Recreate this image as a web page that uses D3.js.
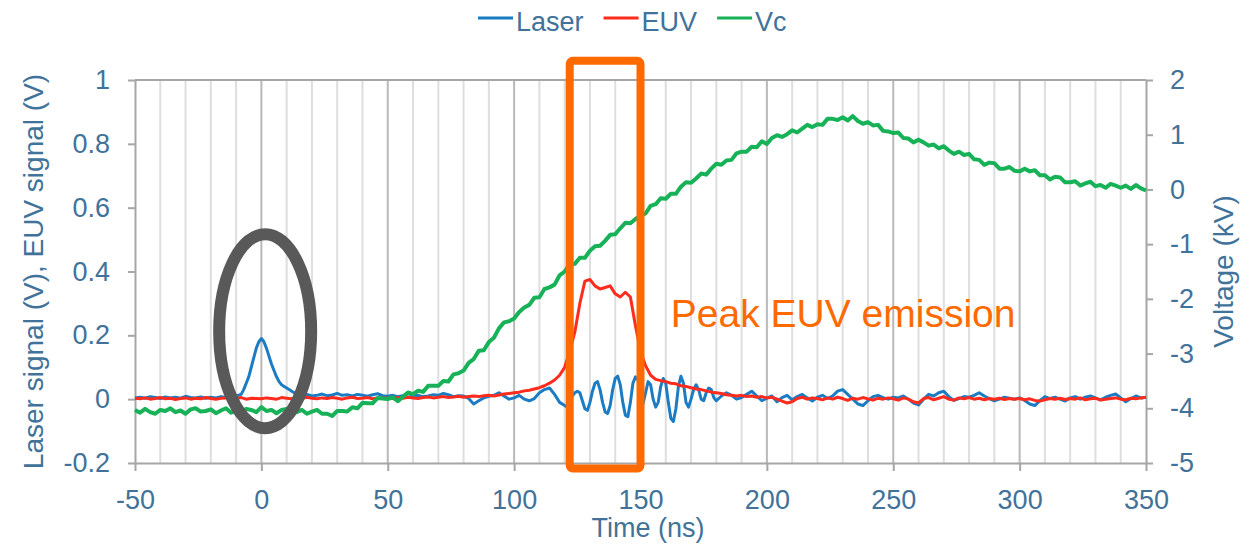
<!DOCTYPE html>
<html>
<head>
<meta charset="utf-8">
<script src="https://cdn.jsdelivr.net/npm/d3@7"></script>
<style>
  body { margin: 0; background: #fff; }
  svg { font-family: "Liberation Sans", Arial, sans-serif; }
  .axis text { fill: #41729a; font-size: 27px; }
  .axis path, .axis line { stroke: #a6a6a6; stroke-width: 2px; }
</style>
</head>
<body>
<svg></svg>
<script>
// series names and colours
var seriesNames = ["Laser", "EUV", "Vc"],
    seriesColors = ["#1b7cc4", "#ff2b1c", "#17b257"];

var xTicks = [-50, 0, 50, 100, 150, 200, 250, 300, 350],
    yLeftTicks = [-0.2, 0, 0.2, 0.4, 0.6, 0.8, 1],
    yRightTicks = [-5, -4, -3, -2, -1, 0, 1, 2];

// time grid for EUV and Vc (ns)
var timeNs = d3.range(-50, 351, 2);

// EUV signal (V), one value per timeNs entry
var euvValues = [
  0.003, 0.001, 0.004, 0.0, 0.002, 0.005, 0.001, 0.003, -0.001, 0.002, 0.004, 0.0, 0.003, 0.001, 0.005, 0.002, 0.0, 0.003, 0.004, 0.001, 0.002, 0.005, 0.0, 0.003, 0.002,
  0.001, 0.004, 0.002, 0.0, 0.005, 0.003, 0.001, 0.004, 0.002, 0.006, 0.003, 0.001, 0.004, 0.002, 0.005, 0.003, 0.0, 0.004, 0.006, 0.002, 0.003, 0.005, 0.001, 0.004, 0.003,
  0.004, 0.002, 0.005, 0.003, 0.006, 0.004, 0.002, 0.005, 0.007, 0.004, 0.006, 0.008, 0.005, 0.007, 0.009, 0.006, 0.008, 0.01, 0.008, 0.011, 0.012, 0.01, 0.013, 0.016, 0.018,
  0.02, 0.022, 0.026, 0.028, 0.032, 0.036, 0.042, 0.05, 0.06, 0.075, 0.1, 0.15, 0.21, 0.3, 0.37, 0.375, 0.355, 0.345, 0.35, 0.355, 0.33, 0.32, 0.335, 0.32, 0.23,
  0.15, 0.105, 0.075, 0.062, 0.058, 0.055, 0.05, 0.048, 0.042, 0.04, 0.036, 0.032, 0.03, 0.026, 0.022, 0.02, 0.018, 0.014, 0.012, 0.01, 0.012, 0.008, 0.01, 0.006, 0.008,
  0.004, 0.006, 0.0, -0.006, -0.012, -0.008, 0.002, 0.006, 0.0, 0.004, 0.002, -0.002, 0.004, 0.0, 0.006, 0.002, -0.004, 0.003, 0.0, 0.005, 0.001, -0.003, 0.003, 0.0, 0.004,
  0.001, -0.003, 0.004, 0.0, -0.008, -0.012, 0.002, 0.005, -0.002, 0.003, 0.008, 0.0, -0.003, 0.004, 0.001, 0.005, 0.0, 0.003, -0.002, 0.002, 0.0, 0.003, -0.001, 0.002, 0.0,
  0.002, -0.002, 0.001, -0.004, -0.006, -0.002, 0.002, 0.0, 0.003, -0.001, 0.002, 0.0, 0.004, -0.002, 0.001, 0.003, -0.003, 0.0, 0.002, 0.004, 0.0, -0.002, 0.003, 0.001, 0.004, 0.006
];

// Vc (kV), one value per timeNs entry
var vcValues = [
  -4.03, -4.08, -4.01, -4.07, -4.1, -4.03, -4.05, -4.0, -4.07, -4.04, -4.1, -4.02, -4.0, -4.06, -4.05, -4.02, -4.09, -4.04, -4.0, -4.08, -4.05, -4.08, -4.01, -4.03, -4.07,
  -3.98, -4.05, -4.03, -4.09, -4.03, -4.01, -4.09, -4.07, -4.03, -4.1, -4.06, -4.03, -4.1, -4.1, -4.14, -4.05, -4.05, -4.06, -3.98, -4.0, -3.9, -3.91, -3.91, -3.81, -3.82,
  -3.83, -3.8, -3.87, -3.79, -3.71, -3.74, -3.68, -3.7, -3.59, -3.59, -3.59, -3.5, -3.51, -3.38, -3.36, -3.31, -3.17, -3.1, -2.95, -2.94, -2.79, -2.71, -2.54, -2.43, -2.41,
  -2.36, -2.24, -2.16, -2.11, -1.98, -1.97, -1.82, -1.79, -1.74, -1.57, -1.5, -1.37, -1.36, -1.25, -1.25, -1.12, -1.04, -1.03, -0.94, -0.83, -0.82, -0.71, -0.61, -0.62, -0.54,
  -0.48, -0.44, -0.3, -0.27, -0.16, -0.17, -0.08, -0.08, 0.05, 0.13, 0.12, 0.2, 0.29, 0.27, 0.38, 0.47, 0.45, 0.53, 0.54, 0.66, 0.69, 0.69, 0.78, 0.77, 0.88,
  0.83, 0.94, 0.99, 0.96, 1.01, 1.08, 1.04, 1.11, 1.18, 1.14, 1.19, 1.18, 1.29, 1.29, 1.27, 1.32, 1.26, 1.34, 1.25, 1.2, 1.23, 1.17, 1.18, 1.07, 1.06,
  1.03, 1.04, 0.94, 0.93, 0.86, 0.91, 0.86, 0.8, 0.82, 0.75, 0.79, 0.71, 0.65, 0.69, 0.63, 0.65, 0.55, 0.54, 0.45, 0.49, 0.48, 0.38, 0.38, 0.41, 0.34,
  0.33, 0.38, 0.33, 0.35, 0.26, 0.26, 0.18, 0.23, 0.22, 0.13, 0.13, 0.15, 0.07, 0.11, 0.14, 0.06, 0.08, 0.03, 0.1, 0.07, 0.03, 0.07, 0.01, 0.08, 0.02, -0.02
];

// Laser signal (V) as [time (ns), value] pairs, finer around the peaks
var laserPoints = [
  [-50, 0.004], [-48, 0.006], [-46, 0.003], [-44, 0.008], [-42, 0.005], [-40, 0.002], [-38, 0.007], [-36, 0.004], [-34, 0.006], [-32, 0.003],
  [-30, 0.009], [-28, 0.005], [-26, 0.004], [-24, 0.007], [-22, 0.003], [-20, 0.006], [-18, 0.004], [-16, 0.008], [-14, 0.005], [-12, 0.006],
  [-10, 0.01], [-8, 0.015], [-7, 0.03], [-6, 0.05], [-5, 0.07], [-4, 0.1], [-3, 0.13], [-2, 0.16], [-1, 0.18], [0, 0.19],
  [1, 0.18], [2, 0.16], [3, 0.135], [4, 0.11], [5, 0.09], [6, 0.07], [7, 0.055], [8, 0.045], [9, 0.04], [10, 0.035],
  [11, 0.03], [12, 0.025], [13, 0.02], [14, 0.016], [16, 0.013], [18, 0.015], [20, 0.01], [22, 0.012], [24, 0.016], [26, 0.011],
  [28, 0.013], [30, 0.018], [32, 0.012], [34, 0.014], [36, 0.01], [38, 0.015], [40, 0.012], [42, 0.009], [44, 0.014], [46, 0.017],
  [48, 0.011], [50, 0.009], [52, 0.012], [54, 0.008], [56, 0.011], [58, 0.006], [60, 0.01], [62, 0.012], [64, 0.008], [66, 0.01],
  [68, 0.014], [70, 0.012], [72, 0.018], [74, 0.014], [76, 0.008], [78, 0.011], [80, 0.01], [82, 0.002], [84, -0.015], [86, -0.005],
  [88, 0.004], [90, 0.009], [92, 0.012], [94, 0.02], [96, 0.01], [98, 0.0], [100, 0.004], [102, 0.012], [104, 0.0], [106, -0.005],
  [108, 0.002], [110, 0.02], [112, 0.03], [114, 0.035], [116, 0.015], [118, -0.01], [120, -0.02], [121, -0.025], [122, -0.01], [123, 0.01],
  [124, 0.02], [125, 0.025], [126, 0.02], [127, -0.005], [128, -0.03], [129, -0.035], [130, -0.01], [131, 0.025], [132, 0.05], [133, 0.055],
  [134, 0.03], [135, -0.01], [136, -0.04], [137, -0.045], [138, -0.02], [139, 0.03], [140, 0.065], [141, 0.072], [142, 0.045], [143, -0.01],
  [144, -0.05], [145, -0.055], [146, -0.01], [147, 0.05], [148, 0.07], [149, 0.06], [150, 0.02], [151, -0.015], [152, 0.02], [153, 0.055],
  [154, 0.045], [155, 0.0], [156, -0.025], [157, -0.01], [158, 0.04], [159, 0.065], [160, 0.05], [161, -0.01], [162, -0.06], [163, -0.07],
  [164, -0.03], [165, 0.04], [166, 0.072], [167, 0.05], [168, -0.01], [169, -0.025], [170, 0.0], [171, 0.03], [172, 0.045], [173, 0.03],
  [174, 0.0], [175, -0.005], [176, 0.02], [177, 0.035], [178, 0.03], [179, 0.005], [180, -0.005], [182, 0.01], [184, 0.02], [186, 0.012],
  [188, 0.0], [190, 0.005], [192, 0.015], [194, 0.025], [196, 0.01], [198, -0.005], [200, 0.003], [202, 0.01], [204, -0.008], [206, 0.005],
  [208, 0.012], [210, -0.002], [212, 0.008], [214, 0.015], [216, 0.004], [218, -0.006], [220, 0.006], [222, 0.012], [224, 0.002], [226, 0.01],
  [228, 0.025], [230, 0.03], [232, 0.015], [234, 0.0], [236, -0.015], [238, -0.02], [240, -0.005], [242, 0.008], [244, 0.012], [246, 0.005],
  [248, 0.0], [250, 0.006], [252, 0.004], [254, 0.01], [256, 0.0], [258, -0.012], [260, -0.018], [262, 0.0], [264, 0.015], [266, 0.01],
  [268, 0.02], [270, 0.025], [272, 0.008], [274, -0.004], [276, 0.002], [278, 0.008], [280, 0.006], [282, 0.012], [284, 0.02], [286, 0.01],
  [288, 0.002], [290, -0.005], [292, 0.0], [294, 0.006], [296, 0.003], [298, 0.0], [300, 0.004], [302, -0.004], [304, -0.015], [306, -0.02],
  [308, -0.005], [310, 0.008], [312, 0.002], [314, 0.006], [316, 0.0], [318, -0.006], [320, 0.004], [322, 0.008], [324, 0.0], [326, 0.006],
  [328, 0.01], [330, 0.004], [332, -0.002], [334, 0.006], [336, 0.012], [338, 0.016], [340, 0.004], [342, -0.008], [344, 0.002], [346, 0.01],
  [348, 0.004], [350, 0.006]
];

var width = 1244, height = 545,
    margin = {top: 80, right: 98, bottom: 82, left: 135},
    textColor = "#41729a",
    svg = d3.select("svg").attr("width", width).attr("height", height);

var x = d3.scaleLinear().domain([-50, 350]).range([margin.left, width - margin.right]),
    yLeft = d3.scaleLinear().domain([-0.2, 1]).range([height - margin.bottom, margin.top]),
    yRight = d3.scaleLinear().domain([-5, 2]).range([height - margin.bottom, margin.top]);

var fmt = function(d) { return String(+d.toFixed(1)); };

// vertical grid every 10 ns, darker every 50
svg.append("g").selectAll("line")
    .data(d3.range(-40, 350, 10))
    .enter().append("line")
    .attr("x1", function(d) { return x(d); })
    .attr("x2", function(d) { return x(d); })
    .attr("y1", yLeft(1))
    .attr("y2", yLeft(-0.2))
    .style("stroke", function(d) { return d % 50 === 0 ? "#b9b9b9" : "#dedede"; })
    .style("stroke-width", "2px");

// top border
svg.append("line")
    .attr("x1", x(-50)).attr("x2", x(350))
    .attr("y1", yLeft(1)).attr("y2", yLeft(1))
    .style("stroke", "#a6a6a6").style("stroke-width", "2px");

svg.append("g")
    .attr("class", "axis")
    .attr("transform", "translate(0," + yLeft(-0.2) + ")")
    .call(d3.axisBottom(x).tickValues(xTicks).tickFormat(fmt).tickSize(8).tickSizeOuter(0).tickPadding(19));

svg.append("g")
    .attr("class", "axis")
    .attr("transform", "translate(" + x(-50) + ",0)")
    .call(d3.axisLeft(yLeft).tickValues(yLeftTicks).tickFormat(fmt).tickSize(7).tickSizeOuter(0).tickPadding(18));

svg.append("g")
    .attr("class", "axis")
    .attr("transform", "translate(" + x(350) + ",0)")
    .call(d3.axisRight(yRight).tickValues(yRightTicks).tickFormat(fmt).tickSize(7).tickSizeOuter(0).tickPadding(17));

svg.selectAll(".axis .domain").style("stroke", "#a6a6a6");

// series
var line = d3.line().curve(d3.curveLinear);

svg.append("path")
    .attr("d", line.x(function(d) { return x(d[0]); }).y(function(d) { return yLeft(d[1]); })(laserPoints))
    .style("fill", "none").style("stroke", seriesColors[0]).style("stroke-width", "3px")
    .style("stroke-linejoin", "round");

svg.append("path")
    .attr("d", line.x(function(d, i) { return x(timeNs[i]); }).y(function(d) { return yLeft(d); })(euvValues))
    .style("fill", "none").style("stroke", seriesColors[1]).style("stroke-width", "3px")
    .style("stroke-linejoin", "round");

svg.append("path")
    .attr("d", line.x(function(d, i) { return x(timeNs[i]); }).y(function(d) { return yRight(d); })(vcValues))
    .style("fill", "none").style("stroke", seriesColors[2]).style("stroke-width", "4px")
    .style("stroke-linejoin", "round");

// axis titles
svg.append("text")
    .attr("transform", "translate(43," + (margin.top + height - margin.bottom) / 2 + ") rotate(-90)")
    .attr("text-anchor", "middle")
    .style("font-size", "28px").style("fill", textColor)
    .text("Laser signal (V), EUV signal (V)");

svg.append("text")
    .attr("transform", "translate(1233," + (margin.top + height - margin.bottom) / 2 + ") rotate(-90)")
    .attr("text-anchor", "middle")
    .style("font-size", "28px").style("fill", textColor)
    .text("Voltage (kV)");

svg.append("text")
    .attr("x", x(153)).attr("y", 537)
    .attr("text-anchor", "middle")
    .style("font-size", "27px").style("fill", textColor)
    .text("Time (ns)");

// legend
var legendX = 478;
seriesNames.forEach(function(name, i) {
    svg.append("line")
        .attr("x1", legendX).attr("x2", legendX + 35)
        .attr("y1", 18).attr("y2", 18)
        .style("stroke", seriesColors[i]).style("stroke-width", "3px");
    var t = svg.append("text")
        .attr("x", legendX + 38).attr("y", 31)
        .style("font-size", "27px").style("fill", textColor)
        .text(name);
    legendX += 38 + t.node().getComputedTextLength() + 20;
});

// annotations
svg.append("ellipse")
    .attr("cx", x(1.5)).attr("cy", yLeft(0.213))
    .attr("rx", x(18.2) - x(0)).attr("ry", yLeft(0) - yLeft(0.304))
    .style("fill", "none").style("stroke", "#595959").style("stroke-width", "12px");

svg.append("rect")
    .attr("x", x(122)).attr("y", yLeft(1.06))
    .attr("width", x(150) - x(122)).attr("height", yLeft(-0.217) - yLeft(1.06))
    .attr("rx", 3)
    .style("fill", "none").style("stroke", "#ff6a00").style("stroke-width", "8px");

svg.append("text")
    .attr("x", x(162)).attr("y", yLeft(0.225))
    .style("font-size", "39px").style("fill", "#ff6a00")
    .text("Peak EUV emission");
</script>
</body>
</html>
